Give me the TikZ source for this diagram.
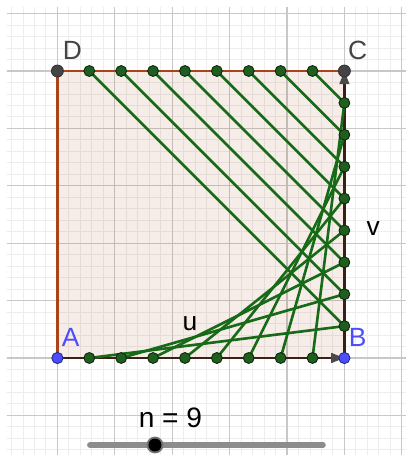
\documentclass[tikz,border=0pt]{standalone}
\usepackage{fontspec}
\setmainfont{Liberation Sans}
\usetikzlibrary{arrows.meta}

\definecolor{gridmajor}{HTML}{C8C8C8}
\definecolor{gridminor}{HTML}{EDEDED}
\definecolor{polybrown}{HTML}{A8431A}
\definecolor{vecbrown}{HTML}{3B2016}
\definecolor{tipgray}{HTML}{4A4A4A}
\definecolor{stringgreen}{HTML}{176B17}
\definecolor{dotgreen}{HTML}{1E5E1E}
\definecolor{ptblue}{HTML}{4D4DFF}
\definecolor{ptgray}{HTML}{444444}

\begin{document}
\begin{tikzpicture}[x=1.148cm,y=1.148cm,line cap=round,line join=round,
  lbl/.style={font=\fontsize{15}{17}\selectfont,inner sep=0pt},
  vlbl/.style={font=\fontsize{15}{17}\selectfont,inner sep=0pt},
  string/.style={stringgreen,line width=1.5pt},
  vec/.style={vecbrown,line width=1.4pt,
    -{Triangle[length=7.5pt,width=5.5pt,color=tipgray,fill=tipgray]}},
  gdot/.style={fill=dotgreen,draw=black!60!dotgreen,line width=0.5pt},
  bdot/.style={fill=ptblue,draw=black!50!ptblue,line width=0.5pt},
  kdot/.style={fill=ptgray,draw=black!80,line width=0.5pt}]
  \useasboundingbox (-1.0,-1.69) rectangle (6.07,6.237);
  % grid
  \begin{scope}
    \clip (-0.88,-1.69) rectangle (6.07,6.10);
    \draw[gridminor,line width=0.5pt] (-1,-2) grid[step=0.2] (7,7);
    \draw[gridmajor,line width=0.7pt] (-1,-2) grid[step=1] (7,7);
  \end{scope}
  \coordinate (A) at (0,0);
  \coordinate (B) at (5,0);
  \coordinate (C) at (5,5);
  \coordinate (D) at (0,5);
  \fill[polybrown,opacity=0.1] (A) -- (B) -- (C) -- (D) -- cycle;
  \draw[polybrown,line width=1.4pt] (A) -- (B) -- (C) -- (D) -- cycle;
  \draw[vec] (A) -- (B);
  \draw[vec] (B) -- (C);
  % division points
  \foreach \k in {1,...,8} {
    \coordinate (t\k) at ({5*\k/9},5);
    \coordinate (b\k) at ({5*\k/9},0);
    \coordinate (r\k) at (5,{5*\k/9});
  }
  \foreach \k in {1,...,8} {
    \draw[string] (t\k) -- (r\k);
    \draw[string] (b\k) -- (r\k);
  }
  \foreach \k in {1,...,8}
    \foreach \s in {t,b,r}
      \path[gdot] (\s\k) circle (3.1pt);
  \path[bdot] (A) circle (3.2pt);
  \path[bdot] (B) circle (3.2pt);
  \path[kdot] (C) circle (3.4pt);
  \path[kdot] (D) circle (3.4pt);
  \node[lbl,text=ptgray] (labD) at (0.26,5.35) {D};
  \node[lbl,text=ptgray] (labC) at (5.23,5.35) {C};
  \node[lbl,text=ptblue] (labA) at (0.23,0.35) {A};
  \node[lbl,text=ptblue] (labB) at (5.23,0.35) {B};
  \node[vlbl] (labu) at (2.31,0.60) {u};
  \node[vlbl] (labv) at (5.50,2.26) {v};
  % slider
  \coordinate (s0) at (0.566,-1.516);
  \coordinate (s1) at (4.627,-1.516);
  \coordinate (knob) at (1.70,-1.516);
  \draw[black!45,line width=3.2pt] (s0) -- (s1);
  \fill[black!55] (knob) circle (4.8pt);
  \fill[black] (knob) circle (3.7pt);
  \node[font=\fontsize{16}{18}\selectfont,inner sep=0pt] (labn) at (1.97,-1.045) {n = 9};
\end{tikzpicture}
\end{document}
